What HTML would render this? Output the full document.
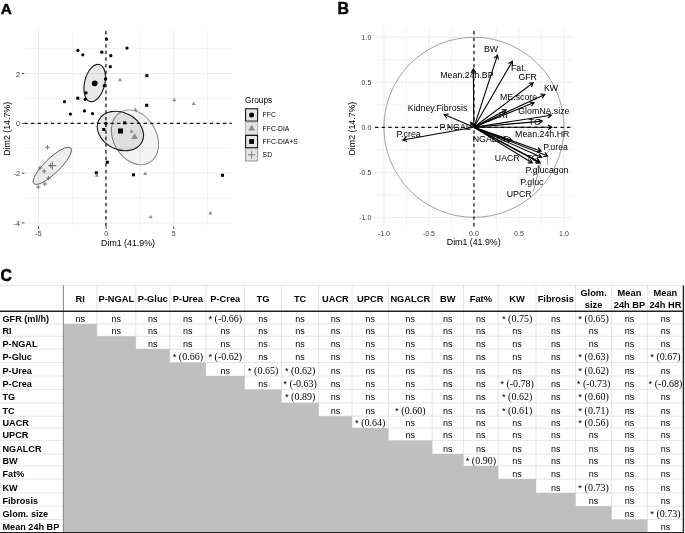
<!DOCTYPE html>
<html><head><meta charset="utf-8"><title>Figure</title><style>
html,body{margin:0;padding:0;background:#fff;}
body{width:685px;height:533px;overflow:hidden;position:relative;}
svg{position:absolute;left:0;top:0;display:block;filter:blur(0.35px);}
text{font-family:"Liberation Sans",sans-serif;}
.hb{font-size:9.3px;font-weight:bold;fill:#000;}
.ns{font-size:9px;fill:#000;}
.sv{font-family:"Liberation Serif",serif;font-size:10px;fill:#000;}
.st{font-family:"Liberation Sans",sans-serif;font-size:9.5px;}
</style></head><body>
<svg width="685" height="533" viewBox="0 0 685 533">
<rect width="685" height="533" fill="#fff"/>
<line x1="38.55" y1="30.3" x2="38.55" y2="226.2" stroke="#ececec" stroke-width="1"/>
<line x1="106.15" y1="30.3" x2="106.15" y2="226.2" stroke="#ececec" stroke-width="1"/>
<line x1="173.75" y1="30.3" x2="173.75" y2="226.2" stroke="#ececec" stroke-width="1"/>
<line x1="72.35" y1="30.3" x2="72.35" y2="226.2" stroke="#ececec" stroke-width="0.7"/>
<line x1="139.95" y1="30.3" x2="139.95" y2="226.2" stroke="#ececec" stroke-width="0.7"/>
<line x1="207.55" y1="30.3" x2="207.55" y2="226.2" stroke="#ececec" stroke-width="0.7"/>
<line x1="24.4" y1="222.91" x2="231.8" y2="222.91" stroke="#ececec" stroke-width="1"/>
<line x1="24.4" y1="173.13" x2="231.8" y2="173.13" stroke="#ececec" stroke-width="1"/>
<line x1="24.4" y1="123.35" x2="231.8" y2="123.35" stroke="#ececec" stroke-width="1"/>
<line x1="24.4" y1="73.57" x2="231.8" y2="73.57" stroke="#ececec" stroke-width="1"/>
<line x1="24.4" y1="198.02" x2="231.8" y2="198.02" stroke="#ececec" stroke-width="0.7"/>
<line x1="24.4" y1="148.24" x2="231.8" y2="148.24" stroke="#ececec" stroke-width="0.7"/>
<line x1="24.4" y1="98.46" x2="231.8" y2="98.46" stroke="#ececec" stroke-width="0.7"/>
<line x1="24.4" y1="48.68" x2="231.8" y2="48.68" stroke="#ececec" stroke-width="0.7"/>
<ellipse cx="135.0" cy="137.35" rx="29.1" ry="21.5" transform="rotate(60.2 135.0 137.35)" fill="#000" fill-opacity="0.048" stroke="#7a7a7a" stroke-width="0.9"/>
<ellipse cx="120.4" cy="131.0" rx="24.2" ry="18.4" transform="rotate(27 120.4 131.0)" fill="#000" fill-opacity="0.085" stroke="#1a1a1a" stroke-width="1.1"/>
<ellipse cx="94.7" cy="83.0" rx="10.06" ry="19.06" transform="rotate(14 94.7 83.0)" fill="#000" fill-opacity="0.09" stroke="#1a1a1a" stroke-width="1.1"/>
<ellipse cx="52.3" cy="165.8" rx="25.6" ry="7.5" transform="rotate(-44 52.3 165.8)" fill="#000" fill-opacity="0.07" stroke="#555" stroke-width="0.9"/>
<line x1="24.4" y1="123.4" x2="231.8" y2="123.4" stroke="#111" stroke-width="1.25" stroke-dasharray="3.31 3.31"/>
<line x1="105.95" y1="226.2" x2="105.95" y2="30.3" stroke="#111" stroke-width="1.25" stroke-dasharray="3.31 3.31"/>
<circle cx="106.5" cy="39.1" r="1.65" fill="#000"/>
<circle cx="77.9" cy="50.4" r="1.65" fill="#000"/>
<circle cx="82.8" cy="54.8" r="1.65" fill="#000"/>
<circle cx="101.8" cy="52.2" r="1.65" fill="#000"/>
<circle cx="110.8" cy="55.7" r="1.65" fill="#000"/>
<circle cx="127" cy="48.1" r="1.65" fill="#000"/>
<circle cx="110.3" cy="66.7" r="1.65" fill="#000"/>
<circle cx="105.6" cy="79" r="1.65" fill="#000"/>
<circle cx="104.3" cy="85.7" r="1.65" fill="#000"/>
<circle cx="86" cy="92.8" r="1.65" fill="#000"/>
<circle cx="85.2" cy="99.3" r="1.65" fill="#000"/>
<circle cx="64.4" cy="101.7" r="1.65" fill="#000"/>
<circle cx="84.5" cy="110.9" r="1.65" fill="#000"/>
<circle cx="70.4" cy="114.1" r="1.65" fill="#000"/>
<circle cx="92.5" cy="113.6" r="1.65" fill="#000"/>
<circle cx="105.9" cy="123.4" r="1.65" fill="#000"/>
<rect x="145.4" y="74.2" width="3" height="3" fill="#000"/>
<rect x="76.3" y="96.7" width="3" height="3" fill="#000"/>
<rect x="123.2" y="121.4" width="3" height="3" fill="#000"/>
<rect x="102.3" y="128" width="3" height="3" fill="#000"/>
<rect x="145.2" y="103.8" width="3" height="3" fill="#000"/>
<rect x="105.8" y="160.7" width="3" height="3" fill="#000"/>
<rect x="94.8" y="171.3" width="3" height="3" fill="#000"/>
<rect x="132" y="173.3" width="3" height="3" fill="#000"/>
<rect x="221" y="173.8" width="3" height="3" fill="#000"/>
<polygon points="118,81.25 122,81.25 120,77.79" fill="#8c8c8c"/>
<polygon points="133.5,111.05 137.5,111.05 135.5,107.59" fill="#8c8c8c"/>
<polygon points="129.6,132.75 133.6,132.75 131.6,129.29" fill="#8c8c8c"/>
<polygon points="94.8,176.65 98.8,176.65 96.8,173.19" fill="#8c8c8c"/>
<polygon points="143.2,175.05 147.2,175.05 145.2,171.59" fill="#8c8c8c"/>
<polygon points="172.3,101.25 176.3,101.25 174.3,97.79" fill="#8c8c8c"/>
<polygon points="191.6,104.95 195.6,104.95 193.6,101.49" fill="#8c8c8c"/>
<polygon points="148.7,218.15 152.7,218.15 150.7,214.69" fill="#8c8c8c"/>
<polygon points="208.4,214.55 212.4,214.55 210.4,211.09" fill="#8c8c8c"/>
<path d="M45.2 147.3H49.8M47.5 145V149.6" stroke="#6a6a6a" stroke-width="0.9" fill="none"/>
<path d="M37.6 168H42.2M39.9 165.7V170.3" stroke="#6a6a6a" stroke-width="0.9" fill="none"/>
<path d="M41.9 171.1H46.5M44.2 168.8V173.4" stroke="#6a6a6a" stroke-width="0.9" fill="none"/>
<path d="M48.3 165.6H52.9M50.6 163.3V167.9" stroke="#6a6a6a" stroke-width="0.9" fill="none"/>
<path d="M46.3 178.1H50.9M48.6 175.8V180.4" stroke="#6a6a6a" stroke-width="0.9" fill="none"/>
<path d="M42.5 184H47.1M44.8 181.7V186.3" stroke="#6a6a6a" stroke-width="0.9" fill="none"/>
<path d="M36 187H40.6M38.3 184.7V189.3" stroke="#6a6a6a" stroke-width="0.9" fill="none"/>
<circle cx="94.7" cy="83.3" r="2.9" fill="#000"/>
<rect x="118" y="128.5" width="5" height="5" fill="#000"/>
<polygon points="131.2,139.06 138,139.06 134.6,133.17" fill="#8c8c8c"/>
<path d="M48.3 165.6H56.3M52.3 161.6V169.6" stroke="#6a6a6a" stroke-width="1.0" fill="none"/>
<line x1="21.8" y1="73.57" x2="24.4" y2="73.57" stroke="#333" stroke-width="0.9"/>
<text x="20.1" y="76.67" font-size="7.3" fill="#3a3a3a" text-anchor="end">2</text>
<line x1="21.8" y1="123.35" x2="24.4" y2="123.35" stroke="#333" stroke-width="0.9"/>
<text x="20.1" y="126.45" font-size="7.3" fill="#3a3a3a" text-anchor="end">0</text>
<line x1="21.8" y1="173.13" x2="24.4" y2="173.13" stroke="#333" stroke-width="0.9"/>
<text x="20.1" y="176.23" font-size="7.3" fill="#3a3a3a" text-anchor="end">-2</text>
<line x1="21.8" y1="222.91" x2="24.4" y2="222.91" stroke="#333" stroke-width="0.9"/>
<text x="20.1" y="226.01" font-size="7.3" fill="#3a3a3a" text-anchor="end">-4</text>
<line x1="38.55" y1="226.3" x2="38.55" y2="228.9" stroke="#333" stroke-width="0.9"/>
<text x="38.55" y="235.8" font-size="7" fill="#3a3a3a" text-anchor="middle">-5</text>
<line x1="106.15" y1="226.3" x2="106.15" y2="228.9" stroke="#333" stroke-width="0.9"/>
<text x="106.15" y="235.8" font-size="7" fill="#3a3a3a" text-anchor="middle">0</text>
<line x1="173.75" y1="226.3" x2="173.75" y2="228.9" stroke="#333" stroke-width="0.9"/>
<text x="173.75" y="235.8" font-size="7" fill="#3a3a3a" text-anchor="middle">5</text>
<text x="128" y="246.2" font-size="8.8" fill="#000" text-anchor="middle">Dim1 (41.9%)</text>
<text transform="translate(9.8 128.8) rotate(-90)" x="0" y="0" font-size="8.8" fill="#000" text-anchor="middle">Dim2 (14.7%)</text>
<text x="245" y="102.8" font-size="8.3" fill="#000">Groups</text>
<rect x="245.6" y="108.8" width="12" height="12.3" fill="#000" fill-opacity="0.1" stroke="#000" stroke-width="1"/>
<circle cx="251.6" cy="114.9" r="2.5" fill="#000"/>
<text x="262.6" y="117.3" font-size="6.8" fill="#000">FFC</text>
<rect x="245.6" y="122.1" width="12" height="12.3" fill="#000" fill-opacity="0.1" stroke="#aaa" stroke-width="1"/>
<polygon points="248.1,130.52 255.1,130.52 251.6,124.46" fill="#8c8c8c"/>
<text x="262.6" y="130.6" font-size="6.8" fill="#000">FFC-DIA</text>
<rect x="245.6" y="135.4" width="12" height="12.3" fill="#000" fill-opacity="0.1" stroke="#000" stroke-width="1"/>
<rect x="249.2" y="139.1" width="4.8" height="4.8" fill="#000"/>
<text x="262.6" y="143.9" font-size="6.8" fill="#000">FFC-DIA+S</text>
<rect x="245.6" y="148.7" width="12" height="12.3" fill="#000" fill-opacity="0.1" stroke="#999" stroke-width="1"/>
<path d="M247.85 154.8H255.35M251.6 151.05V158.55" stroke="#6a6a6a" stroke-width="0.8" fill="none"/>
<text x="262.6" y="157.2" font-size="6.8" fill="#000">SD</text>
<line x1="383.95" y1="29.1" x2="383.95" y2="226.4" stroke="#ececec" stroke-width="1"/>
<line x1="375.1" y1="217.4" x2="572.8" y2="217.4" stroke="#ececec" stroke-width="1"/>
<line x1="428.95" y1="29.1" x2="428.95" y2="226.4" stroke="#ececec" stroke-width="1"/>
<line x1="375.1" y1="172.35" x2="572.8" y2="172.35" stroke="#ececec" stroke-width="1"/>
<line x1="473.95" y1="29.1" x2="473.95" y2="226.4" stroke="#ececec" stroke-width="1"/>
<line x1="375.1" y1="127.3" x2="572.8" y2="127.3" stroke="#ececec" stroke-width="1"/>
<line x1="518.95" y1="29.1" x2="518.95" y2="226.4" stroke="#ececec" stroke-width="1"/>
<line x1="375.1" y1="82.25" x2="572.8" y2="82.25" stroke="#ececec" stroke-width="1"/>
<line x1="563.95" y1="29.1" x2="563.95" y2="226.4" stroke="#ececec" stroke-width="1"/>
<line x1="375.1" y1="37.2" x2="572.8" y2="37.2" stroke="#ececec" stroke-width="1"/>
<line x1="406.45" y1="29.1" x2="406.45" y2="226.4" stroke="#ececec" stroke-width="0.7"/>
<line x1="375.1" y1="194.88" x2="572.8" y2="194.88" stroke="#ececec" stroke-width="0.7"/>
<line x1="451.45" y1="29.1" x2="451.45" y2="226.4" stroke="#ececec" stroke-width="0.7"/>
<line x1="375.1" y1="149.82" x2="572.8" y2="149.82" stroke="#ececec" stroke-width="0.7"/>
<line x1="496.45" y1="29.1" x2="496.45" y2="226.4" stroke="#ececec" stroke-width="0.7"/>
<line x1="375.1" y1="104.78" x2="572.8" y2="104.78" stroke="#ececec" stroke-width="0.7"/>
<line x1="541.45" y1="29.1" x2="541.45" y2="226.4" stroke="#ececec" stroke-width="0.7"/>
<line x1="375.1" y1="59.73" x2="572.8" y2="59.73" stroke="#ececec" stroke-width="0.7"/>
<circle cx="473.95" cy="127.3" r="90.05" fill="none" stroke="#8a8a8a" stroke-width="0.8"/>
<line x1="375.1" y1="127.3" x2="572.8" y2="127.3" stroke="#111" stroke-width="1.25" stroke-dasharray="3.31 3.31"/>
<line x1="473.95" y1="226.4" x2="473.95" y2="29.1" stroke="#111" stroke-width="1.25" stroke-dasharray="3.31 3.31"/>
<path d="M473.95 127.3L473.3 68.9M471.04 72.91L473.3 68.9L475.64 72.86" stroke="#000" stroke-width="1.1" fill="none"/>
<path d="M473.95 127.3L497.5 55.1M494.08 58.17L497.5 55.1L498.45 59.6" stroke="#000" stroke-width="1.1" fill="none"/>
<path d="M473.95 127.3L512.4 61.3M508.41 63.58L512.4 61.3L512.38 65.9" stroke="#000" stroke-width="1.1" fill="none"/>
<path d="M473.95 127.3L533.2 82.7M528.63 83.26L533.2 82.7L531.4 86.93" stroke="#000" stroke-width="1.1" fill="none"/>
<path d="M473.95 127.3L544.8 94.4M540.22 93.99L544.8 94.4L542.16 98.16" stroke="#000" stroke-width="1.1" fill="none"/>
<path d="M473.95 127.3L534.1 102.6M529.54 101.99L534.1 102.6L531.29 106.24" stroke="#000" stroke-width="1.1" fill="none"/>
<path d="M473.95 127.3L551.4 115.2M547.11 113.54L551.4 115.2L547.82 118.09" stroke="#000" stroke-width="1.1" fill="none"/>
<path d="M473.95 127.3L506.2 109.8M501.6 109.68L506.2 109.8L503.8 113.72" stroke="#000" stroke-width="1.1" fill="none"/>
<path d="M473.95 127.3L542.5 121.1M538.33 119.17L542.5 121.1L538.74 123.75" stroke="#000" stroke-width="1.1" fill="none"/>
<path d="M473.95 127.3L551.9 127.2M547.91 124.91L551.9 127.2L547.92 129.51" stroke="#000" stroke-width="1.1" fill="none"/>
<path d="M473.95 127.3L444.2 114.6M446.96 118.28L444.2 114.6L448.77 114.05" stroke="#000" stroke-width="1.1" fill="none"/>
<path d="M473.95 127.3L402.8 140M407.13 141.56L402.8 140L406.32 137.04" stroke="#000" stroke-width="1.1" fill="none"/>
<path d="M473.95 127.3L470.8 122.2M470.94 126.8L470.8 122.2L474.85 124.38" stroke="#000" stroke-width="1.1" fill="none"/>
<path d="M473.95 127.3L512.3 140.8M509.31 137.31L512.3 140.8L507.78 141.65" stroke="#000" stroke-width="1.1" fill="none"/>
<path d="M473.95 127.3L532.4 163M530.2 158.96L532.4 163L527.8 162.89" stroke="#000" stroke-width="1.1" fill="none"/>
<path d="M473.95 127.3L541.6 157.3M538.89 153.58L541.6 157.3L537.03 157.79" stroke="#000" stroke-width="1.1" fill="none"/>
<path d="M473.95 127.3L547.7 156M544.82 152.41L547.7 156L543.15 156.7" stroke="#000" stroke-width="1.1" fill="none"/>
<path d="M473.95 127.3L541.2 151.2M538.22 147.7L541.2 151.2L536.68 152.03" stroke="#000" stroke-width="1.1" fill="none"/>
<path d="M473.95 127.3L540.3 163M537.88 159.09L540.3 163L535.7 163.14" stroke="#000" stroke-width="1.1" fill="none"/>
<path d="M473.95 127.3L539.5 162M537.06 158.1L539.5 162L534.9 162.17" stroke="#000" stroke-width="1.1" fill="none"/>
<line x1="548.9" y1="151.0" x2="545.0" y2="154.6" stroke="#333" stroke-width="0.5"/>
<line x1="547.5" y1="156.8" x2="547.4" y2="164.7" stroke="#333" stroke-width="0.5"/>
<line x1="532.8" y1="176.5" x2="538.6" y2="165.0" stroke="#333" stroke-width="0.5"/>
<line x1="533.3" y1="191.5" x2="540.2" y2="164.3" stroke="#333" stroke-width="0.5"/>
<text x="484.0" y="52.1" font-size="8.8" fill="#000">BW</text>
<text x="511.0" y="70.8" font-size="8.8" fill="#000">Fat.</text>
<text x="440.3" y="77.9" font-size="8.8" fill="#000">Mean.24h.BP</text>
<text x="518.4" y="79.8" font-size="8.8" fill="#000">GFR</text>
<text x="544.0" y="91.1" font-size="8.8" fill="#000">KW</text>
<text x="500.0" y="99.9" font-size="8.8" fill="#000">ME.score</text>
<text x="407.8" y="111.4" font-size="8.8" fill="#000">Kidney.Fibrosis</text>
<text x="518.2" y="113.9" font-size="8.8" fill="#000">GlomNA.size</text>
<text x="498.8" y="118.4" font-size="8.8" fill="#000">RI</text>
<text x="528.6" y="124.9" font-size="8.8" fill="#000">TC</text>
<text x="439.6" y="129.9" font-size="8.8" fill="#000">P.NGAL</text>
<text x="396.4" y="137.1" font-size="8.8" fill="#000">P.crea</text>
<text x="515.1" y="136.7" font-size="8.8" fill="#000">Mean.24h.HR</text>
<text x="472.7" y="142.1" font-size="8.8" fill="#000">NGALCR</text>
<text x="543.2" y="149.7" font-size="8.8" fill="#000">P.urea</text>
<text x="494.8" y="161" font-size="8.8" fill="#000">UACR</text>
<text x="526.3" y="161" font-size="8.8" fill="#000">TG</text>
<text x="525.6" y="172.8" font-size="8.8" fill="#000">P.glucagon</text>
<text x="520.2" y="185" font-size="8.8" fill="#000">P.gluc</text>
<text x="506.7" y="196.7" font-size="8.8" fill="#000">UPCR</text>
<text x="371.3" y="40.2" font-size="7" fill="#3a3a3a" text-anchor="end">1.0</text>
<text x="563.95" y="235.8" font-size="7" fill="#3a3a3a" text-anchor="middle">1.0</text>
<text x="371.3" y="85.25" font-size="7" fill="#3a3a3a" text-anchor="end">0.5</text>
<text x="518.95" y="235.8" font-size="7" fill="#3a3a3a" text-anchor="middle">0.5</text>
<text x="371.3" y="130.3" font-size="7" fill="#3a3a3a" text-anchor="end">0.0</text>
<text x="473.95" y="235.8" font-size="7" fill="#3a3a3a" text-anchor="middle">0.0</text>
<text x="371.3" y="175.35" font-size="7" fill="#3a3a3a" text-anchor="end">-0.5</text>
<text x="428.95" y="235.8" font-size="7" fill="#3a3a3a" text-anchor="middle">-0.5</text>
<text x="371.3" y="220.4" font-size="7" fill="#3a3a3a" text-anchor="end">-1.0</text>
<text x="383.95" y="235.8" font-size="7" fill="#3a3a3a" text-anchor="middle">-1.0</text>
<text x="473.7" y="245.4" font-size="8.8" fill="#000" text-anchor="middle">Dim1 (41.9%)</text>
<text transform="translate(354.7 128.6) rotate(-90)" x="0" y="0" font-size="8.8" fill="#000" text-anchor="middle">Dim2 (14.7%)</text>
<text x="0.7" y="14.3" font-size="14.8" font-weight="bold" fill="#000" stroke="#000" stroke-width="0.4" transform="translate(0.7 14.3) scale(1.04 1) translate(-0.7 -14.3)">A</text>
<text x="337.5" y="13.8" font-size="15.9" font-weight="bold" fill="#000" stroke="#000" stroke-width="0.45">B</text>
<text x="0.5" y="281.5" font-size="16.6" font-weight="bold" fill="#000" stroke="#000" stroke-width="0.55" transform="translate(0.5 281.5) scale(0.95 1) translate(-0.5 -281.5)">C</text>
<line x1="0" y1="285.5" x2="683.4" y2="285.5" stroke="#e6e6e6" stroke-width="1"/>
<line x1="0" y1="323.9" x2="63.4" y2="323.9" stroke="#dedede" stroke-width="0.8"/>
<line x1="63.4" y1="323.9" x2="683.4" y2="323.9" stroke="#dedede" stroke-width="0.8"/>
<line x1="0" y1="336.3" x2="63.4" y2="336.3" stroke="#dedede" stroke-width="0.8"/>
<line x1="96.9" y1="336.3" x2="683.4" y2="336.3" stroke="#dedede" stroke-width="0.8"/>
<line x1="0" y1="349.1" x2="63.4" y2="349.1" stroke="#dedede" stroke-width="0.8"/>
<line x1="135.8" y1="349.1" x2="683.4" y2="349.1" stroke="#dedede" stroke-width="0.8"/>
<line x1="0" y1="362.5" x2="63.4" y2="362.5" stroke="#dedede" stroke-width="0.8"/>
<line x1="169.8" y1="362.5" x2="683.4" y2="362.5" stroke="#dedede" stroke-width="0.8"/>
<line x1="0" y1="376" x2="63.4" y2="376" stroke="#dedede" stroke-width="0.8"/>
<line x1="205.9" y1="376" x2="683.4" y2="376" stroke="#dedede" stroke-width="0.8"/>
<line x1="0" y1="389.5" x2="63.4" y2="389.5" stroke="#dedede" stroke-width="0.8"/>
<line x1="244.6" y1="389.5" x2="683.4" y2="389.5" stroke="#dedede" stroke-width="0.8"/>
<line x1="0" y1="402.8" x2="63.4" y2="402.8" stroke="#dedede" stroke-width="0.8"/>
<line x1="281.5" y1="402.8" x2="683.4" y2="402.8" stroke="#dedede" stroke-width="0.8"/>
<line x1="0" y1="416.2" x2="63.4" y2="416.2" stroke="#dedede" stroke-width="0.8"/>
<line x1="318.7" y1="416.2" x2="683.4" y2="416.2" stroke="#dedede" stroke-width="0.8"/>
<line x1="0" y1="428.1" x2="63.4" y2="428.1" stroke="#dedede" stroke-width="0.8"/>
<line x1="352.1" y1="428.1" x2="683.4" y2="428.1" stroke="#dedede" stroke-width="0.8"/>
<line x1="0" y1="440.6" x2="63.4" y2="440.6" stroke="#dedede" stroke-width="0.8"/>
<line x1="388.4" y1="440.6" x2="683.4" y2="440.6" stroke="#dedede" stroke-width="0.8"/>
<line x1="0" y1="454" x2="63.4" y2="454" stroke="#dedede" stroke-width="0.8"/>
<line x1="432.2" y1="454" x2="683.4" y2="454" stroke="#dedede" stroke-width="0.8"/>
<line x1="0" y1="465.9" x2="63.4" y2="465.9" stroke="#dedede" stroke-width="0.8"/>
<line x1="463.5" y1="465.9" x2="683.4" y2="465.9" stroke="#dedede" stroke-width="0.8"/>
<line x1="0" y1="479.1" x2="63.4" y2="479.1" stroke="#dedede" stroke-width="0.8"/>
<line x1="498.2" y1="479.1" x2="683.4" y2="479.1" stroke="#dedede" stroke-width="0.8"/>
<line x1="0" y1="493" x2="63.4" y2="493" stroke="#dedede" stroke-width="0.8"/>
<line x1="536" y1="493" x2="683.4" y2="493" stroke="#dedede" stroke-width="0.8"/>
<line x1="0" y1="506.2" x2="63.4" y2="506.2" stroke="#dedede" stroke-width="0.8"/>
<line x1="575.5" y1="506.2" x2="683.4" y2="506.2" stroke="#dedede" stroke-width="0.8"/>
<line x1="0" y1="519.5" x2="63.4" y2="519.5" stroke="#dedede" stroke-width="0.8"/>
<line x1="611.6" y1="519.5" x2="683.4" y2="519.5" stroke="#dedede" stroke-width="0.8"/>
<line x1="96.9" y1="285.5" x2="96.9" y2="336.3" stroke="#dedede" stroke-width="0.8"/>
<line x1="135.8" y1="285.5" x2="135.8" y2="349.1" stroke="#dedede" stroke-width="0.8"/>
<line x1="169.8" y1="285.5" x2="169.8" y2="362.5" stroke="#dedede" stroke-width="0.8"/>
<line x1="205.9" y1="285.5" x2="205.9" y2="376" stroke="#dedede" stroke-width="0.8"/>
<line x1="244.6" y1="285.5" x2="244.6" y2="389.5" stroke="#dedede" stroke-width="0.8"/>
<line x1="281.5" y1="285.5" x2="281.5" y2="402.8" stroke="#dedede" stroke-width="0.8"/>
<line x1="318.7" y1="285.5" x2="318.7" y2="416.2" stroke="#dedede" stroke-width="0.8"/>
<line x1="352.1" y1="285.5" x2="352.1" y2="428.1" stroke="#dedede" stroke-width="0.8"/>
<line x1="388.4" y1="285.5" x2="388.4" y2="440.6" stroke="#dedede" stroke-width="0.8"/>
<line x1="432.2" y1="285.5" x2="432.2" y2="454" stroke="#dedede" stroke-width="0.8"/>
<line x1="463.5" y1="285.5" x2="463.5" y2="465.9" stroke="#dedede" stroke-width="0.8"/>
<line x1="498.2" y1="285.5" x2="498.2" y2="479.1" stroke="#dedede" stroke-width="0.8"/>
<line x1="536" y1="285.5" x2="536" y2="493" stroke="#dedede" stroke-width="0.8"/>
<line x1="575.5" y1="285.5" x2="575.5" y2="506.2" stroke="#dedede" stroke-width="0.8"/>
<line x1="611.6" y1="285.5" x2="611.6" y2="519.5" stroke="#dedede" stroke-width="0.8"/>
<line x1="647.4" y1="285.5" x2="647.4" y2="531.9" stroke="#dedede" stroke-width="0.8"/>
<polygon points="63.4,323.9 96.9,323.9 96.9,336.3 135.8,336.3 135.8,349.1 169.8,349.1 169.8,362.5 205.9,362.5 205.9,376 244.6,376 244.6,389.5 281.5,389.5 281.5,402.8 318.7,402.8 318.7,416.2 352.1,416.2 352.1,428.1 388.4,428.1 388.4,440.6 432.2,440.6 432.2,454 463.5,454 463.5,465.9 498.2,465.9 498.2,479.1 536,479.1 536,493 575.5,493 575.5,506.2 611.6,506.2 611.6,519.5 647.4,519.5 647.4,531.9 63.4,531.9" fill="#bfbfbf"/>
<line x1="63.4" y1="285.5" x2="63.4" y2="531.9" stroke="#858585" stroke-width="1"/>
<line x1="0" y1="311.3" x2="683.4" y2="311.3" stroke="#222" stroke-width="1.5"/>
<line x1="683.4" y1="285.5" x2="683.4" y2="532.7" stroke="#222" stroke-width="1.4"/>
<line x1="0" y1="532.8" x2="683.4" y2="532.8" stroke="#222" stroke-width="1.4"/>
<text x="80.15" y="301.9" class="hb" text-anchor="middle">RI</text>
<text x="116.35" y="301.9" class="hb" text-anchor="middle">P-NGAL</text>
<text x="152.8" y="301.9" class="hb" text-anchor="middle">P-Gluc</text>
<text x="187.85" y="301.9" class="hb" text-anchor="middle">P-Urea</text>
<text x="225.25" y="301.9" class="hb" text-anchor="middle">P-Crea</text>
<text x="263.05" y="301.9" class="hb" text-anchor="middle">TG</text>
<text x="300.1" y="301.9" class="hb" text-anchor="middle">TC</text>
<text x="335.4" y="301.9" class="hb" text-anchor="middle">UACR</text>
<text x="370.25" y="301.9" class="hb" text-anchor="middle">UPCR</text>
<text x="410.3" y="301.9" class="hb" text-anchor="middle">NGALCR</text>
<text x="447.85" y="301.9" class="hb" text-anchor="middle">BW</text>
<text x="480.85" y="301.9" class="hb" text-anchor="middle">Fat%</text>
<text x="517.1" y="301.9" class="hb" text-anchor="middle">KW</text>
<text x="555.75" y="301.9" class="hb" text-anchor="middle">Fibrosis</text>
<text x="593.55" y="295.6" class="hb" text-anchor="middle">Glom.</text>
<text x="593.55" y="308.4" class="hb" text-anchor="middle">size</text>
<text x="629.5" y="295.6" class="hb" text-anchor="middle">Mean</text>
<text x="629.5" y="308.4" class="hb" text-anchor="middle">24h BP</text>
<text x="665.4" y="295.6" class="hb" text-anchor="middle">Mean</text>
<text x="665.4" y="308.4" class="hb" text-anchor="middle">24h HR</text>
<text x="2.5" y="321.55" class="hb" style="font-size:9.15px">GFR (ml/h)</text>
<text x="80.15" y="321.55" class="ns" text-anchor="middle">ns</text>
<text x="116.35" y="321.55" class="ns" text-anchor="middle">ns</text>
<text x="152.8" y="321.55" class="ns" text-anchor="middle">ns</text>
<text x="187.85" y="321.55" class="ns" text-anchor="middle">ns</text>
<text x="225.25" y="321.55" class="sv" text-anchor="middle"><tspan class="st">*</tspan> (-0.66)</text>
<text x="263.05" y="321.55" class="ns" text-anchor="middle">ns</text>
<text x="300.1" y="321.55" class="ns" text-anchor="middle">ns</text>
<text x="335.4" y="321.55" class="ns" text-anchor="middle">ns</text>
<text x="370.25" y="321.55" class="ns" text-anchor="middle">ns</text>
<text x="410.3" y="321.55" class="ns" text-anchor="middle">ns</text>
<text x="447.85" y="321.55" class="ns" text-anchor="middle">ns</text>
<text x="480.85" y="321.55" class="ns" text-anchor="middle">ns</text>
<text x="517.1" y="321.55" class="sv" text-anchor="middle"><tspan class="st">*</tspan> (0.75)</text>
<text x="555.75" y="321.55" class="ns" text-anchor="middle">ns</text>
<text x="593.55" y="321.55" class="sv" text-anchor="middle"><tspan class="st">*</tspan> (0.65)</text>
<text x="629.5" y="321.55" class="ns" text-anchor="middle">ns</text>
<text x="665.4" y="321.55" class="ns" text-anchor="middle">ns</text>
<text x="2.5" y="333.95" class="hb" style="font-size:9.15px">RI</text>
<text x="116.35" y="333.95" class="ns" text-anchor="middle">ns</text>
<text x="152.8" y="333.95" class="ns" text-anchor="middle">ns</text>
<text x="187.85" y="333.95" class="ns" text-anchor="middle">ns</text>
<text x="225.25" y="333.95" class="ns" text-anchor="middle">ns</text>
<text x="263.05" y="333.95" class="ns" text-anchor="middle">ns</text>
<text x="300.1" y="333.95" class="ns" text-anchor="middle">ns</text>
<text x="335.4" y="333.95" class="ns" text-anchor="middle">ns</text>
<text x="370.25" y="333.95" class="ns" text-anchor="middle">ns</text>
<text x="410.3" y="333.95" class="ns" text-anchor="middle">ns</text>
<text x="447.85" y="333.95" class="ns" text-anchor="middle">ns</text>
<text x="480.85" y="333.95" class="ns" text-anchor="middle">ns</text>
<text x="517.1" y="333.95" class="ns" text-anchor="middle">ns</text>
<text x="555.75" y="333.95" class="ns" text-anchor="middle">ns</text>
<text x="593.55" y="333.95" class="ns" text-anchor="middle">ns</text>
<text x="629.5" y="333.95" class="ns" text-anchor="middle">ns</text>
<text x="665.4" y="333.95" class="ns" text-anchor="middle">ns</text>
<text x="2.5" y="346.75" class="hb" style="font-size:9.15px">P-NGAL</text>
<text x="152.8" y="346.75" class="ns" text-anchor="middle">ns</text>
<text x="187.85" y="346.75" class="ns" text-anchor="middle">ns</text>
<text x="225.25" y="346.75" class="ns" text-anchor="middle">ns</text>
<text x="263.05" y="346.75" class="ns" text-anchor="middle">ns</text>
<text x="300.1" y="346.75" class="ns" text-anchor="middle">ns</text>
<text x="335.4" y="346.75" class="ns" text-anchor="middle">ns</text>
<text x="370.25" y="346.75" class="ns" text-anchor="middle">ns</text>
<text x="410.3" y="346.75" class="ns" text-anchor="middle">ns</text>
<text x="447.85" y="346.75" class="ns" text-anchor="middle">ns</text>
<text x="480.85" y="346.75" class="ns" text-anchor="middle">ns</text>
<text x="517.1" y="346.75" class="ns" text-anchor="middle">ns</text>
<text x="555.75" y="346.75" class="ns" text-anchor="middle">ns</text>
<text x="593.55" y="346.75" class="ns" text-anchor="middle">ns</text>
<text x="629.5" y="346.75" class="ns" text-anchor="middle">ns</text>
<text x="665.4" y="346.75" class="ns" text-anchor="middle">ns</text>
<text x="2.5" y="360.15" class="hb" style="font-size:9.15px">P-Gluc</text>
<text x="187.85" y="360.15" class="sv" text-anchor="middle"><tspan class="st">*</tspan> (0.66)</text>
<text x="225.25" y="360.15" class="sv" text-anchor="middle"><tspan class="st">*</tspan> (-0.62)</text>
<text x="263.05" y="360.15" class="ns" text-anchor="middle">ns</text>
<text x="300.1" y="360.15" class="ns" text-anchor="middle">ns</text>
<text x="335.4" y="360.15" class="ns" text-anchor="middle">ns</text>
<text x="370.25" y="360.15" class="ns" text-anchor="middle">ns</text>
<text x="410.3" y="360.15" class="ns" text-anchor="middle">ns</text>
<text x="447.85" y="360.15" class="ns" text-anchor="middle">ns</text>
<text x="480.85" y="360.15" class="ns" text-anchor="middle">ns</text>
<text x="517.1" y="360.15" class="ns" text-anchor="middle">ns</text>
<text x="555.75" y="360.15" class="ns" text-anchor="middle">ns</text>
<text x="593.55" y="360.15" class="sv" text-anchor="middle"><tspan class="st">*</tspan> (0.63)</text>
<text x="629.5" y="360.15" class="ns" text-anchor="middle">ns</text>
<text x="665.4" y="360.15" class="sv" text-anchor="middle"><tspan class="st">*</tspan> (0.67)</text>
<text x="2.5" y="373.65" class="hb" style="font-size:9.15px">P-Urea</text>
<text x="225.25" y="373.65" class="ns" text-anchor="middle">ns</text>
<text x="263.05" y="373.65" class="sv" text-anchor="middle"><tspan class="st">*</tspan> (0.65)</text>
<text x="300.1" y="373.65" class="sv" text-anchor="middle"><tspan class="st">*</tspan> (0.62)</text>
<text x="335.4" y="373.65" class="ns" text-anchor="middle">ns</text>
<text x="370.25" y="373.65" class="ns" text-anchor="middle">ns</text>
<text x="410.3" y="373.65" class="ns" text-anchor="middle">ns</text>
<text x="447.85" y="373.65" class="ns" text-anchor="middle">ns</text>
<text x="480.85" y="373.65" class="ns" text-anchor="middle">ns</text>
<text x="517.1" y="373.65" class="ns" text-anchor="middle">ns</text>
<text x="555.75" y="373.65" class="ns" text-anchor="middle">ns</text>
<text x="593.55" y="373.65" class="sv" text-anchor="middle"><tspan class="st">*</tspan> (0.62)</text>
<text x="629.5" y="373.65" class="ns" text-anchor="middle">ns</text>
<text x="665.4" y="373.65" class="ns" text-anchor="middle">ns</text>
<text x="2.5" y="387.15" class="hb" style="font-size:9.15px">P-Crea</text>
<text x="263.05" y="387.15" class="ns" text-anchor="middle">ns</text>
<text x="300.1" y="387.15" class="sv" text-anchor="middle"><tspan class="st">*</tspan> (-0.63)</text>
<text x="335.4" y="387.15" class="ns" text-anchor="middle">ns</text>
<text x="370.25" y="387.15" class="ns" text-anchor="middle">ns</text>
<text x="410.3" y="387.15" class="ns" text-anchor="middle">ns</text>
<text x="447.85" y="387.15" class="ns" text-anchor="middle">ns</text>
<text x="480.85" y="387.15" class="ns" text-anchor="middle">ns</text>
<text x="517.1" y="387.15" class="sv" text-anchor="middle"><tspan class="st">*</tspan> (-0.78)</text>
<text x="555.75" y="387.15" class="ns" text-anchor="middle">ns</text>
<text x="593.55" y="387.15" class="sv" text-anchor="middle"><tspan class="st">*</tspan> (-0.73)</text>
<text x="629.5" y="387.15" class="ns" text-anchor="middle">ns</text>
<text x="665.4" y="387.15" class="sv" text-anchor="middle"><tspan class="st">*</tspan> (-0.68)</text>
<text x="2.5" y="400.45" class="hb" style="font-size:9.15px">TG</text>
<text x="300.1" y="400.45" class="sv" text-anchor="middle"><tspan class="st">*</tspan> (0.89)</text>
<text x="335.4" y="400.45" class="ns" text-anchor="middle">ns</text>
<text x="370.25" y="400.45" class="ns" text-anchor="middle">ns</text>
<text x="410.3" y="400.45" class="ns" text-anchor="middle">ns</text>
<text x="447.85" y="400.45" class="ns" text-anchor="middle">ns</text>
<text x="480.85" y="400.45" class="ns" text-anchor="middle">ns</text>
<text x="517.1" y="400.45" class="sv" text-anchor="middle"><tspan class="st">*</tspan> (0.62)</text>
<text x="555.75" y="400.45" class="ns" text-anchor="middle">ns</text>
<text x="593.55" y="400.45" class="sv" text-anchor="middle"><tspan class="st">*</tspan> (0.60)</text>
<text x="629.5" y="400.45" class="ns" text-anchor="middle">ns</text>
<text x="665.4" y="400.45" class="ns" text-anchor="middle">ns</text>
<text x="2.5" y="413.85" class="hb" style="font-size:9.15px">TC</text>
<text x="335.4" y="413.85" class="ns" text-anchor="middle">ns</text>
<text x="370.25" y="413.85" class="ns" text-anchor="middle">ns</text>
<text x="410.3" y="413.85" class="sv" text-anchor="middle"><tspan class="st">*</tspan> (0.60)</text>
<text x="447.85" y="413.85" class="ns" text-anchor="middle">ns</text>
<text x="480.85" y="413.85" class="ns" text-anchor="middle">ns</text>
<text x="517.1" y="413.85" class="sv" text-anchor="middle"><tspan class="st">*</tspan> (0.61)</text>
<text x="555.75" y="413.85" class="ns" text-anchor="middle">ns</text>
<text x="593.55" y="413.85" class="sv" text-anchor="middle"><tspan class="st">*</tspan> (0.71)</text>
<text x="629.5" y="413.85" class="ns" text-anchor="middle">ns</text>
<text x="665.4" y="413.85" class="ns" text-anchor="middle">ns</text>
<text x="2.5" y="425.75" class="hb" style="font-size:9.15px">UACR</text>
<text x="370.25" y="425.75" class="sv" text-anchor="middle"><tspan class="st">*</tspan> (0.64)</text>
<text x="410.3" y="425.75" class="ns" text-anchor="middle">ns</text>
<text x="447.85" y="425.75" class="ns" text-anchor="middle">ns</text>
<text x="480.85" y="425.75" class="ns" text-anchor="middle">ns</text>
<text x="517.1" y="425.75" class="ns" text-anchor="middle">ns</text>
<text x="555.75" y="425.75" class="ns" text-anchor="middle">ns</text>
<text x="593.55" y="425.75" class="sv" text-anchor="middle"><tspan class="st">*</tspan> (0.56)</text>
<text x="629.5" y="425.75" class="ns" text-anchor="middle">ns</text>
<text x="665.4" y="425.75" class="ns" text-anchor="middle">ns</text>
<text x="2.5" y="438.25" class="hb" style="font-size:9.15px">UPCR</text>
<text x="410.3" y="438.25" class="ns" text-anchor="middle">ns</text>
<text x="447.85" y="438.25" class="ns" text-anchor="middle">ns</text>
<text x="480.85" y="438.25" class="ns" text-anchor="middle">ns</text>
<text x="517.1" y="438.25" class="ns" text-anchor="middle">ns</text>
<text x="555.75" y="438.25" class="ns" text-anchor="middle">ns</text>
<text x="593.55" y="438.25" class="ns" text-anchor="middle">ns</text>
<text x="629.5" y="438.25" class="ns" text-anchor="middle">ns</text>
<text x="665.4" y="438.25" class="ns" text-anchor="middle">ns</text>
<text x="2.5" y="451.65" class="hb" style="font-size:9.15px">NGALCR</text>
<text x="447.85" y="451.65" class="ns" text-anchor="middle">ns</text>
<text x="480.85" y="451.65" class="ns" text-anchor="middle">ns</text>
<text x="517.1" y="451.65" class="ns" text-anchor="middle">ns</text>
<text x="555.75" y="451.65" class="ns" text-anchor="middle">ns</text>
<text x="593.55" y="451.65" class="ns" text-anchor="middle">ns</text>
<text x="629.5" y="451.65" class="ns" text-anchor="middle">ns</text>
<text x="665.4" y="451.65" class="ns" text-anchor="middle">ns</text>
<text x="2.5" y="463.55" class="hb" style="font-size:9.15px">BW</text>
<text x="480.85" y="463.55" class="sv" text-anchor="middle"><tspan class="st">*</tspan> (0.90)</text>
<text x="517.1" y="463.55" class="ns" text-anchor="middle">ns</text>
<text x="555.75" y="463.55" class="ns" text-anchor="middle">ns</text>
<text x="593.55" y="463.55" class="ns" text-anchor="middle">ns</text>
<text x="629.5" y="463.55" class="ns" text-anchor="middle">ns</text>
<text x="665.4" y="463.55" class="ns" text-anchor="middle">ns</text>
<text x="2.5" y="476.75" class="hb" style="font-size:9.15px">Fat%</text>
<text x="517.1" y="476.75" class="ns" text-anchor="middle">ns</text>
<text x="555.75" y="476.75" class="ns" text-anchor="middle">ns</text>
<text x="593.55" y="476.75" class="ns" text-anchor="middle">ns</text>
<text x="629.5" y="476.75" class="ns" text-anchor="middle">ns</text>
<text x="665.4" y="476.75" class="ns" text-anchor="middle">ns</text>
<text x="2.5" y="490.65" class="hb" style="font-size:9.15px">KW</text>
<text x="555.75" y="490.65" class="ns" text-anchor="middle">ns</text>
<text x="593.55" y="490.65" class="sv" text-anchor="middle"><tspan class="st">*</tspan> (0.73)</text>
<text x="629.5" y="490.65" class="ns" text-anchor="middle">ns</text>
<text x="665.4" y="490.65" class="ns" text-anchor="middle">ns</text>
<text x="2.5" y="503.85" class="hb" style="font-size:9.15px">Fibrosis</text>
<text x="593.55" y="503.85" class="ns" text-anchor="middle">ns</text>
<text x="629.5" y="503.85" class="ns" text-anchor="middle">ns</text>
<text x="665.4" y="503.85" class="ns" text-anchor="middle">ns</text>
<text x="2.5" y="517.15" class="hb" style="font-size:9.15px">Glom. size</text>
<text x="629.5" y="517.15" class="ns" text-anchor="middle">ns</text>
<text x="665.4" y="517.15" class="sv" text-anchor="middle"><tspan class="st">*</tspan> (0.73)</text>
<text x="2.5" y="529.55" class="hb" style="font-size:9.15px">Mean 24h BP</text>
<text x="665.4" y="529.55" class="ns" text-anchor="middle">ns</text>
</svg>
</body></html>
